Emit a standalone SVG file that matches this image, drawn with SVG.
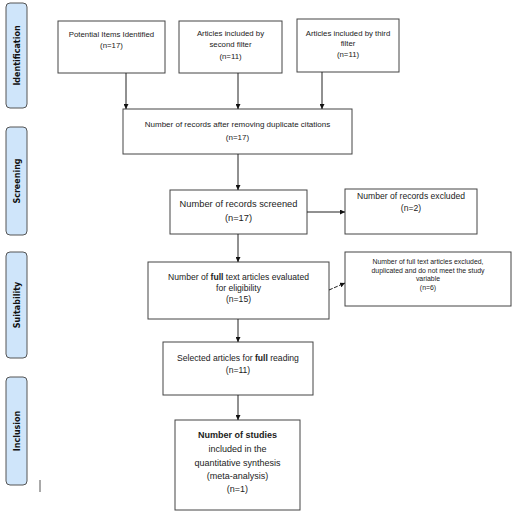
<svg xmlns="http://www.w3.org/2000/svg" width="525" height="515" viewBox="0 0 525 515">
<defs>
<style>
.stage rect{fill:#cfe5fa;stroke:#555;stroke-width:1}
.stage text{font-family:"DejaVu Sans",sans-serif;font-weight:bold;font-size:8px;fill:#111;text-anchor:middle}
.box rect{fill:#fff;stroke:#444;stroke-width:1}
.box text{font-family:"Liberation Sans",Arial,sans-serif;fill:#222;text-anchor:middle}
.conn line{stroke:#222;stroke-width:1;marker-end:url(#ah)}
</style>
<marker id="ah" viewBox="0 0 10 10" refX="10" refY="5" markerWidth="5" markerHeight="5" orient="auto" markerUnits="userSpaceOnUse"><path d="M0,0 L10,5 L0,10 z" fill="#111"/></marker>
</defs>
<rect width="525" height="515" fill="#fff"/>
<g id="stage-identification" class="stage"><rect x="6" y="3" width="21" height="105" rx="4"/><text transform="translate(19.5,55.5) rotate(-90)">Identification</text></g>
<g id="stage-screening" class="stage"><rect x="6" y="127" width="21" height="108" rx="4"/><text transform="translate(19.5,181) rotate(-90)">Screening</text></g>
<g id="stage-suitability" class="stage"><rect x="6" y="252" width="21" height="106" rx="4"/><text transform="translate(19.5,305) rotate(-90)">Suitability</text></g>
<g id="stage-inclusion" class="stage"><rect x="6" y="377" width="21" height="108" rx="4"/><text transform="translate(19.5,431) rotate(-90)">Inclusion</text></g>
<line x1="40" y1="480" x2="40" y2="492" stroke="#555" stroke-width="1"/>
<g id="n-potential" class="box"><rect x="58" y="21" width="107" height="52"/><text font-size="7.8"><tspan x="111.5" y="37">Potential Items Identified</tspan><tspan x="111.5" y="48">(n=17)</tspan></text></g>
<g id="n-second" class="box"><rect x="179" y="21" width="103" height="52"/><text font-size="7.8"><tspan x="230.5" y="36">Articles included by</tspan><tspan x="230.5" y="47">second filter</tspan><tspan x="230.5" y="59">(n=11)</tspan></text></g>
<g id="n-third" class="box"><rect x="297" y="19" width="102" height="53"/><text font-size="7.8"><tspan x="348" y="36">Articles included by third</tspan><tspan x="348" y="46">filter</tspan><tspan x="348" y="57">(n=11)</tspan></text></g>
<g id="n-dedup" class="box"><rect x="123" y="109" width="229" height="45"/><text font-size="8"><tspan x="237.5" y="127">Number of records after removing duplicate citations</tspan><tspan x="237.5" y="140">(n=17)</tspan></text></g>
<g id="n-screened" class="box"><rect x="170" y="190" width="137" height="44" stroke-width="1.3"/><text font-size="9.3"><tspan x="238.5" y="207">Number of records screened</tspan><tspan x="238.5" y="221">(n=17)</tspan></text></g>
<g id="n-excluded" class="box"><rect x="345" y="189" width="132" height="45"/><text font-size="8.6"><tspan x="411" y="199">Number of records excluded</tspan><tspan x="411" y="211">(n=2)</tspan></text></g>
<g id="n-eligibility" class="box"><rect x="148" y="262" width="181" height="57" stroke-width="1.3"/><text font-size="8.6"><tspan x="238.5" y="280">Number of <tspan font-weight="bold">full</tspan> text articles evaluated</tspan><tspan x="238.5" y="291">for eligibility</tspan><tspan x="238.5" y="302">(n=15)</tspan></text></g>
<g id="n-fulltext-excluded" class="box"><rect x="345" y="252" width="166" height="54"/><text font-size="6.9"><tspan x="428" y="264">Number of full text articles excluded,</tspan><tspan x="428" y="272.5">duplicated and do not meet the study</tspan><tspan x="428" y="281">variable</tspan><tspan x="428" y="289.5">(n=6)</tspan></text></g>
<g id="n-selected" class="box"><rect x="163" y="342" width="150" height="53"/><text font-size="8.6"><tspan x="238" y="361">Selected articles for <tspan font-weight="bold">full</tspan> reading</tspan><tspan x="238" y="373">(n=11)</tspan></text></g>
<g id="n-inclusion" class="box"><rect x="175" y="420" width="125" height="90"/><text font-size="9"><tspan x="237.5" y="438" font-weight="bold">Number of studies</tspan><tspan x="237.5" y="452">included in the</tspan><tspan x="237.5" y="466">quantitative synthesis</tspan><tspan x="237.5" y="479">(meta-analysis)</tspan><tspan x="237.5" y="492">(n=1)</tspan></text></g>
<g id="connectors" class="conn">
<line x1="126" y1="73" x2="126" y2="109"/>
<line x1="238" y1="73" x2="238" y2="109"/>
<line x1="322" y1="72" x2="322" y2="109"/>
<line x1="238" y1="154" x2="238" y2="190"/>
<line x1="307" y1="212" x2="345" y2="212"/>
<line x1="238" y1="234" x2="238" y2="262"/>
<line x1="329" y1="290" x2="345" y2="283" stroke-dasharray="4 1.5"/>
<line x1="238" y1="319" x2="238" y2="342"/>
<line x1="238" y1="395" x2="238" y2="420"/>
</g>
</svg>
